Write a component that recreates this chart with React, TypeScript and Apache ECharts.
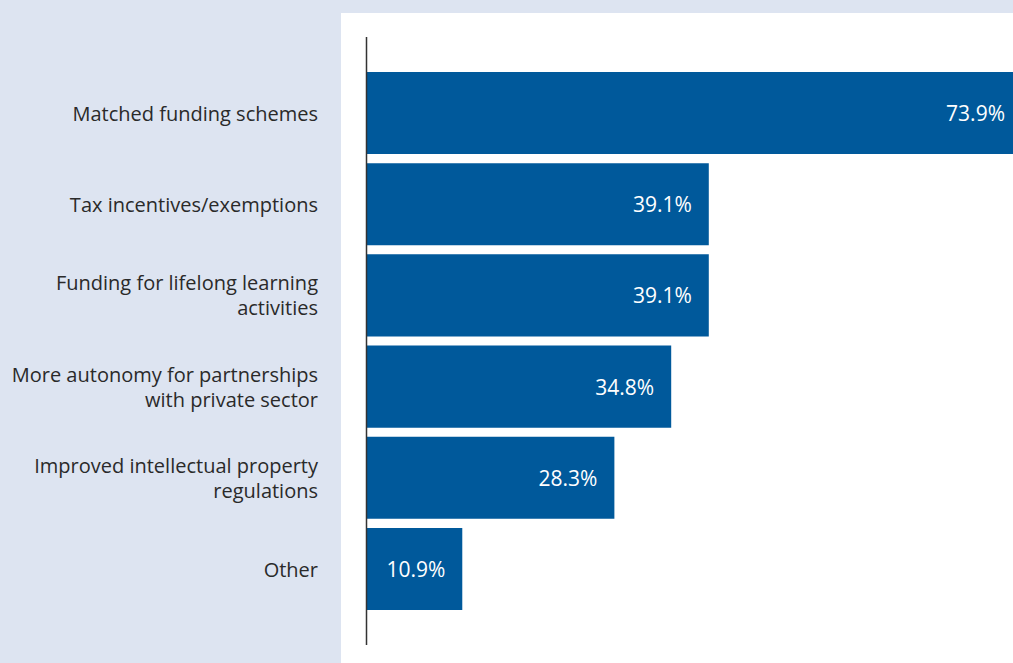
import React, { useEffect, useRef } from "react";
import * as echarts from "echarts";

const categories = [
  "Matched funding schemes",
  "Tax incentives/exemptions",
  "Funding for lifelong learning\nactivities",
  "More autonomy for partnerships\nwith private sector",
  "Improved intellectual property\nregulations",
  "Other",
];
const values = [73.9, 39.1, 39.1, 34.8, 28.3, 10.9];

const FONT = "'Open Sans', 'Noto Sans', sans-serif";

export default function App() {
  const ref = useRef<HTMLDivElement>(null);
  useEffect(() => {
    if (!ref.current) return;
    const chart = echarts.init(ref.current, undefined, { renderer: "svg" });
    chart.setOption({
      animation: false,
      backgroundColor: "#dde4f1",
      graphic: [
        {
          type: "rect",
          z: -10,
          silent: true,
          shape: { x: 341, y: 13, width: 700, height: 700 },
          style: { fill: "#ffffff" },
        },
        {
          type: "line",
          z: 10,
          silent: true,
          shape: { x1: 366.5, y1: 37, x2: 366.5, y2: 645 },
          style: { stroke: "#333333", lineWidth: 1.5 },
        },
      ],
      grid: { left: 367, right: -1, top: 67.4, bottom: 48.4, containLabel: false },
      xAxis: {
        type: "value",
        min: 0,
        max: 73.9,
        show: false,
      },
      yAxis: {
        type: "category",
        data: categories,
        inverse: true,
        axisLine: { show: false },
        axisTick: { show: false },
        axisLabel: {
          margin: 49,
          fontFamily: FONT,
          fontSize: 20,
          color: "#2a2a2a",
          lineHeight: 25,
          align: "right",
          padding: [3, 0, 0, 0],
        },
      },
      series: [
        {
          type: "bar",
          data: values.map((v, i) =>
            i === 0 ? { value: v, label: { distance: 8 } } : v
          ),
          barCategoryGap: "10%",
          itemStyle: { color: "#00599b" },
          label: {
            show: true,
            position: "insideRight",
            distance: 17,
            formatter: (p: any) => `${p.value.toFixed(1)}%`,
            color: "#ffffff",
            fontFamily: FONT,
            fontSize: 21,
          },
        },
      ],
    });
    return () => chart.dispose();
  }, []);
  return (
    <div
      ref={ref}
      style={{ position: "absolute", left: 0, top: 0, width: 1013, height: 663 }}
    />
  );
}
